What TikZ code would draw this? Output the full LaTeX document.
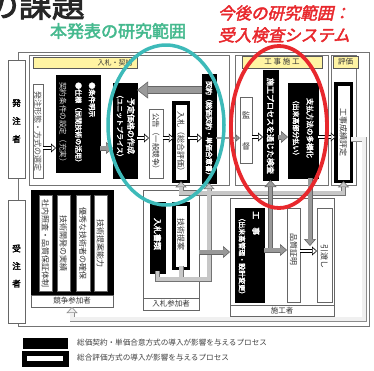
\documentclass[tikz,border=0pt]{standalone}
\usepackage{fontspec}
\newfontfamily\jp{Noto Sans CJK JP}[AutoFakeBold=2.5,AutoFakeSlant=0.2]
\newfontfamily\jpsl{Noto Sans CJK JP}[FakeSlant=0.22,AutoFakeBold=2.5]
\usetikzlibrary{arrows.meta}
\definecolor{tealc}{HTML}{3DBAB9}
\definecolor{tealtx}{HTML}{45B98E}
\definecolor{redc}{HTML}{E8282D}
\definecolor{ylw}{HTML}{FFF4A3}
\newcommand{\fs}[1]{\fontsize{#1}{#1}\selectfont}
\newcommand{\twopass}[4]{\draw[#1] #3 -- #4; \draw[#2] #3 -- #4;}
\tikzset{
  blk/.style={draw=black, fill=black, line width=0.4pt, inner sep=0pt, outer sep=0pt},
  wb/.style={draw=black!60, fill=white, line width=0.5pt, inner sep=0pt, outer sep=0pt},
  bwb/.style={draw=black, fill=white, line width=3.5pt, inner sep=0pt, outer sep=0pt},
  frm/.style={draw=black!55, line width=0.6pt},
  ybar/.style={draw=black!65, fill=ylw, line width=0.5pt, inner sep=0pt},
  vt/.style={rotate=-90, inner sep=0pt, font=\jp\fs{8}, text=black!80},
  vtw/.style={rotate=-90, inner sep=0pt, font=\jp\bfseries\fs{8}, text=white},
  lbl/.style={inner sep=0pt, font=\jp\fs{7.5}, text=black!80},
  gO/.style={line width=5pt, draw=black!60, -{Triangle[length=7pt,width=12pt,fill=black!40,line width=0.6pt]}},
  gI/.style={line width=3.6pt, draw=black!40, shorten >=6.5pt},
  gOb/.style={line width=8pt, draw=black!60, -{Triangle[length=11pt,width=17pt,fill=black!40,line width=0.6pt]}},
  gIb/.style={line width=6.6pt, draw=black!40, shorten >=10.5pt},
  tO/.style={line width=2.6pt, draw=black!60, -{Triangle[length=4pt,width=7pt,fill=black!40,line width=0.5pt]}},
  tI/.style={line width=1.4pt, draw=black!40, shorten >=3.6pt},
  wO/.style={line width=4pt, draw=black, -{Triangle[length=5pt,width=9pt,fill=white,line width=0.6pt]}},
  wI/.style={line width=2.6pt, draw=white, shorten >=4.6pt},
  nO/.style={line width=5pt, draw=black!55, line cap=rect, line join=miter},
  nI/.style={line width=3.6pt, draw=black!22, line cap=rect, line join=miter},
  nAO/.style={line width=5pt, draw=black!55, -{Triangle[length=6pt,width=11pt,fill=black!22,line width=0.6pt]}},
  nAI/.style={line width=3.6pt, draw=black!22, shorten >=5.6pt},
  fO/.style={line width=5pt, draw=black!45, line join=miter, -{Triangle[length=6pt,width=11pt,fill=black!6,line width=0.6pt]}},
  fI/.style={line width=3.6pt, draw=black!6, line join=miter, shorten >=5.6pt},
}
\begin{document}
\begin{tikzpicture}[x=1pt,y=-1pt]
\useasboundingbox (0,0) rectangle (374,370);
% ---- frames
\draw[frm] (18,52) rectangle (369,326);
\draw[frm] (29,55) rectangle (229,185);
\draw[frm] (235,55) rectangle (328,185);
\draw[frm] (331,55) rectangle (356,185);
% ---- side labels
\node[wb, minimum width=17pt, minimum height=118pt] (hc) at (16.5,119) {};
\node[font=\jp\bfseries\fontsize{8.5}{18}\selectfont, align=center, inner sep=0pt] (hcT) at (16.5,121) {発\\注\\者};
\node[wb, minimum width=17pt, minimum height=123pt] (jc) at (16.5,261.5) {};
\node[font=\jp\bfseries\fontsize{8.5}{17.5}\selectfont, align=center, inner sep=0pt] (jcT) at (16.5,266) {受\\注\\者};
% ---- yellow bars
\node[ybar, minimum width=104pt, minimum height=11pt] (yb1) at (85,62.5) {};
\node[lbl, font=\jp\fs{7}] (yb1T) at (115,62.5) {入札・契約};
\node[ybar, minimum width=80pt, minimum height=12pt] (yb2) at (282,62) {};
\node[lbl] (yb2T) at (282,62) {工 事 施 工};
\node[ybar, minimum width=25pt, minimum height=12pt] (yb3) at (345.5,62) {};
\node[lbl] (yb3T) at (345.5,62) {評価};
% ---- top row boxes
\node[wb, minimum width=10pt, minimum height=94pt] (hk) at (38,131) {};
\node[vt, text=black!70] (hkT) at (hk.center) {発注形態・方式の選定};
\node[blk, minimum width=44pt, minimum height=97pt] (kj) at (78,123.5) {};
\node[vtw, anchor=west, font=\jp\bfseries\fs{7}] (kjA) at (92,82) {●条件明示};
\node[vtw, anchor=west, font=\jp\bfseries\fs{7}] (kjB) at (78.5,82) {●仕様（民間技術の活用）};
\node[vt, anchor=west, text=black!12, font=\jp\fs{7.6}] (kjC) at (63,82) {契約条件の設定（充実）};
\node[blk, minimum width=24pt, minimum height=95pt] (yt) at (125,130.5) {};
\node[vtw] (ytA) at (131,126) {予定価格の作成};
\node[vtw, font=\jp\bfseries\fs{7}] (ytB) at (120,126) {（ユニットプライス）};
\node[wb, minimum width=14pt, minimum height=69pt] (kk) at (156,143.5) {};
\node[vt, font=\jp\fs{7.5}] (kkT) at (156,143) {公告（一般競争）};
\node[bwb, minimum width=14.5pt, minimum height=78.5pt] (nf) at (181,142) {};
\node[vt] (nfT) at (181,143) {入札（総合評価）};
\node[blk, minimum width=14pt, minimum height=109pt] (ky) at (209,128.5) {};
\node[vtw, font=\jp\bfseries\fs{7}] (kyT) at (209,130) {契約（総価契約・単価合意書）};
\node[wb, minimum width=12pt, minimum height=66pt] (kt) at (246,130) {};
\node[font=\jp\fontsize{8}{31}\selectfont, align=center, inner sep=0pt, text=black!80] (ktT) at (246,131) {監\\督};
\node[blk, minimum width=15pt, minimum height=110pt] (ks) at (270.5,125) {};
\node[vtw] (ksT) at (270.5,126) {施工プロセスを通じた検査};
\node[blk, minimum width=30pt, minimum height=95pt] (sh) at (303,130.5) {};
\node[vtw, font=\jp\bfseries\fs{7.5}] (shA) at (310,128) {支払方法の多様化};
\node[vtw, font=\jp\bfseries\fs{7}] (shB) at (296,128) {（出来高部分払い）};
\node[bwb, minimum width=15.5pt, minimum height=97.5pt] (hy) at (343.5,132.5) {};
\node[vt] (hyT) at (343.5,132) {工事成績評定};
% ---- bottom row
\node[blk, minimum width=82pt, minimum height=105pt] (kg) at (72,242.5) {};
\node[wb, minimum width=13pt, minimum height=96pt] (s1) at (45.5,243) {};
\node[vt] (s1T) at (s1.center) {社内照査・品質保証体制};
\node[wb, minimum width=13pt, minimum height=96pt] (s2) at (63.5,243) {};
\node[vt] (s2T) at (s2.center) {技術開発の実績};
\node[wb, minimum width=14pt, minimum height=96pt] (s3) at (83,243) {};
\node[vt] (s3T) at (s3.center) {優秀な技術者の確保};
\node[wb, minimum width=13pt, minimum height=96pt] (s4) at (100.5,243) {};
\node[vt] (s4T) at (s4.center) {技術提案能力};
\node[wb, minimum width=82pt, minimum height=12pt, font=\jp\fs{7.5}, text=black!80] (kgl) at (72,301) {競争参加者};
\node[wb, minimum width=56pt, minimum height=120pt] (np) at (171,250) {};
\node[wb, minimum width=56pt, minimum height=12pt, font=\jp\fs{7.5}, text=black!80] (npl) at (171,304) {入札参加者};
\node[blk, minimum width=15pt, minimum height=71pt] (ns) at (157.5,237.5) {};
\node[vtw] (nsT) at (157.5,234) {入札書類};
\node[bwb, minimum width=14.5pt, minimum height=64.5pt] (gt) at (181,236) {};
\node[vt] (gtT) at (181,234) {技術提案};
\node[wb, minimum width=104pt, minimum height=118pt] (sk) at (282,257) {};
\node[wb, minimum width=104pt, minimum height=11pt, font=\jp\fs{7.5}, text=black!80] (skl) at (282,310.5) {施工者};
\node[blk, minimum width=29pt, minimum height=94pt] (kji) at (249.5,255) {};
\node[vtw, anchor=west] (kjiA) at (256,211) {工　事};
\node[vtw, anchor=west, font=\jp\bfseries\fs{7}] (kjiB) at (242,214) {（出来高管理・設計変更）};
\node[wb, minimum width=13pt, minimum height=94pt] (hs) at (293.5,255) {};
\node[vt] (hsT) at (293.5,249) {品質証明};
\node[wb, minimum width=15pt, minimum height=94pt] (hw) at (324.5,255) {};
\node[vt] (hwT) at (324.5,256) {引渡し};
% ---- pipe network
\coordinate (p1) at (157.5,279);
\coordinate (p2) at (209,279);
\coordinate (p3) at (209,193);
\coordinate (p4) at (181,193);
\coordinate (p5) at (343.5,193);
\draw[nO] (ns.south) -- (p1) -- (p2) -- (p3);
\draw[nO] (gt.south) -- (gt.south |- p1);
\draw[nO] (p4) -- (p5);
\draw[nAO] (p4) -- (nf.south);
\draw[nAO] (p3) -- (ky.south);
\draw[nAO] (p5) -- (hy.south);
\draw[nI] (ns.south) -- (p1) -- (p2) -- (p3);
\draw[nI] (gt.south) -- (gt.south |- p1);
\draw[nI] (p4) -- (p5);
\draw[nAI] (p4) -- (nf.south);
\draw[nAI] (p3) -- (ky.south);
\draw[nAI] (p5) -- (hy.south);
% ---- feedback pipe
\coordinate (f1) at (364,139);
\coordinate (f2) at (364,319);
\coordinate (f3) at (72,319);
\draw[fO] (hy.east |- f1) -- (f1) -- (f2) -- (f3) -- (kgl.south);
\draw[fI] (hy.east |- f1) -- (f1) -- (f2) -- (f3) -- (kgl.south);
% ---- gray arrows
\twopass{gO}{gI}{(kj.east |- 0,148)}{(yt.west |- 0,148)}
\twopass{gOb}{gIb}{(ky.west |- 0,90)}{(yt.east |- 0,90)}
\twopass{tO}{tI}{(ky.east |- 0,138)}{(kt.west |- 0,138)}
\twopass{gO}{gI}{(ks.east |- 0,137)}{(sh.west |- 0,137)}
\twopass{gO}{gI}{(np.east |- 0,252)}{(sk.west |- 0,252)}
\coordinate (g7e) at (310,246);
\coordinate (g8s) at (270.5,250);
\draw[gO] (kji.east |- 0,250) -- (hs.west |- 0,250);
\draw[gO] (g8s) -- (ks.south);
\draw[gI] (kji.east |- 0,250) -- (hs.west |- 0,250);
\draw[gI] (g8s) -- (ks.south);
\twopass{gO}{gI}{(sh.south -| g7e)}{(g7e)}
% ---- white arrows
\twopass{wO}{wI}{(hk.east |- 0,148)}{(kj.west |- 0,148)}
\twopass{wO}{wI}{(yt.east |- 0,138)}{(kk.west |- 0,138)}
\twopass{wO}{wI}{(kk.east |- 0,138)}{(nf.west |- 0,138)}
\twopass{wO}{wI}{(nf.east |- 0,138)}{(ky.west |- 0,138)}
\twopass{wO}{wI}{(kt.east |- 0,137)}{(ks.west |- 0,137)}
\twopass{wO}{wI}{(sh.east |- 0,137)}{(hy.west |- 0,137)}
\twopass{wO}{wI}{(hs.east |- 0,251)}{(hw.west |- 0,251)}
% ---- ellipses
\draw[tealc, line width=3.5pt] (166,125) ellipse [x radius=58pt, y radius=80pt];
\draw[redc, line width=3.8pt] (279,127) ellipse [x radius=48pt, y radius=81pt];
% ---- titles
\node[anchor=base west, font=\jp\bfseries\fs{33}, text=black!85, inner sep=0pt] (tt) at (-14.5,17) {の課題};
\node[font=\jp\bfseries\fs{17}, text=tealtx, inner sep=0pt] (tl) at (118,31) {本発表の研究範囲};
\node[font=\jpsl\bfseries\fontsize{16.5}{22}\selectfont, text=redc, align=center, inner sep=0pt] (rd) at (284,24) {今後の研究範囲：\\受入検査システム};
% ---- legend
\node[blk, minimum width=44pt, minimum height=10pt] (lg1) at (45,343) {};
\node[anchor=west, font=\jp\fs{7.6}, text=black!75, inner sep=0pt] (lg1T) at (77,343) {総価契約・単価合意方式の導入が影響を与えるプロセス};
\node[blk, minimum width=46pt, minimum height=15pt] (lg2) at (45,358.5) {};
\node[fill=white, inner sep=0pt, minimum width=36pt, minimum height=5pt] (lg2i) at (45,358.5) {};
\node[anchor=west, font=\jp\fs{7.6}, text=black!75, inner sep=0pt] (lg2T) at (77,358) {総合評価方式の導入が影響を与えるプロセス};
\end{tikzpicture}
\end{document}
